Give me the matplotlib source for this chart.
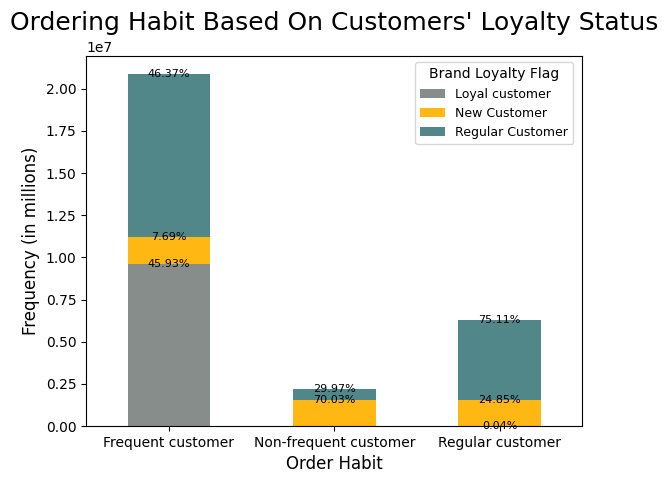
import matplotlib.pyplot as plt
import numpy as np

# order habit categories and counts per loyalty flag
habits = ['Frequent customer', 'Non-frequent customer', 'Regular customer']
loyal = [9.595e6, 0.0, 0.0025e6]
new = [1.606e6, 1.52e6, 1.563e6]
regular = [9.687e6, 0.65e6, 4.725e6]
pct_loyal = ['45.93%', '', '0.04%']
pct_new = ['7.69%', '70.03%', '24.85%']
pct_regular = ['46.37%', '29.97%', '75.11%']

series = [('Loyal customer', loyal, pct_loyal, '#868d8a'),
          ('New Customer', new, pct_new, '#ffb713'),
          ('Regular Customer', regular, pct_regular, '#528789')]

fig, ax = plt.subplots(figsize=(6.68, 4.8))
fig.subplots_adjust(left=0.129, right=0.872, top=0.883, bottom=0.1125)

x = np.arange(len(habits))
bottom = np.zeros(len(habits))
for name, vals, pcts, color in series:
    vals = np.array(vals)
    ax.bar(x, vals, 0.5, bottom=bottom, color=color, label=name)
    for xi, b, v, p in zip(x, bottom, vals, pcts):
        if p:
            ax.text(xi, b + v, p, ha='center', va='center', fontsize=8)
    bottom = bottom + vals

ax.set_xlim(-0.5, 2.5)
ax.set_xticks(x)
ax.set_xticklabels(habits, rotation=0)
ax.set_xlabel('Order Habit', fontsize=12)
ax.set_ylabel('Frequency (in millions)', fontsize=12)
ax.set_title("Ordering Habit Based On Customers' Loyalty Status", fontsize=18, pad=8)
ax.legend(title='Brand Loyalty Flag', fontsize=9, title_fontsize=10,
          loc='upper right', bbox_to_anchor=(0.994, 1.0))

plt.savefig('out.png', dpi=100)
